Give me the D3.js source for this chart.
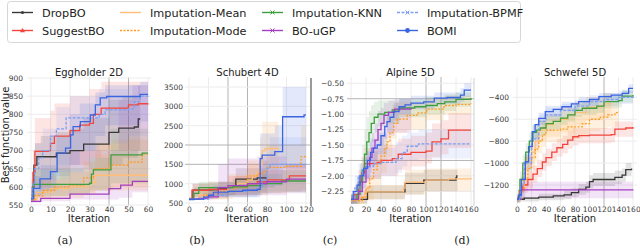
<!DOCTYPE html>
<html>
<head>
<meta charset="utf-8">
<script src="https://cdn.jsdelivr.net/npm/d3@7"></script>
<style>
  body { margin: 0; background: #fff; }
  svg { display: block; font-family: "DejaVu Sans", sans-serif; }
</style>
</head>
<body>
<svg id="chart" width="640" height="252"></svg>
<script>
const methods = ['DropBO', 'SuggestBO', 'Imputation-Mean', 'Imputation-Mode', 'Imputation-KNN', 'BO-uGP', 'Imputation-BPMF', 'BOMI'];
const colors = ['#383838', '#f2453d', '#ffbe78', '#ff9a22', '#3f9e3f', '#a43fc2', '#7c9ff2', '#3a64e0'];
const dashes = [null, null, null, '2,1.5', null, null, '3,1.5', null];
const panelTitles = ['Eggholder 2D', 'Schubert 4D', 'Alpine 5D', 'Schwefel 5D'];
const subLabels = ['(a)', '(b)', '(c)', '(d)'];

// ---- Eggholder 2D: step points [iteration, value], bands [iteration, low, high]
const eggLines = {
  'DropBO': [[0,567],[1,600],[1.5,660],[3,683],[8,683],[13,693],[20,700],[27,718],[39,718],[40,750],[45,762],[53,765],[55,787],[56,787]],
  'SuggestBO': [[0,570],[1,640],[2,698],[9,700],[10,720],[12,740],[20,755],[25,770],[30,775],[32,800],[36,817],[50,826],[55,829],[60,830]],
  'Imputation-Mean': [[0,565],[3,585],[10,595],[20,600],[30,612],[33,632],[60,632]],
  'Imputation-Mode': [[0,565],[2,575],[6,590],[12,600],[20,605],[27,625],[32,650],[40,660],[50,668],[57,690],[60,690]],
  'Imputation-KNN': [[0,570],[1,607],[30,610],[31,635],[32,647],[41,688],[57,693],[60,693]],
  'BO-uGP': [[0,560],[5,568],[20,580],[40,595],[46,605],[52,615],[60,615]],
  'Imputation-BPMF': [[0,570],[1,610],[2,650],[4,680],[6,700],[10,740],[13,760],[18,790],[32,790],[35,800],[38,812],[50,815],[53,835],[56,850],[60,855]],
  'BOMI': [[0,567],[1.3,596],[4.6,622],[10,642],[13.4,693],[17.7,707],[20.3,743],[21.6,766],[25.3,780],[30.4,798],[33,826],[35.5,845],[38.8,849],[56,855],[60,855]]
};
const eggBands = {
  'DropBO': [[0,560,600],[2,600,720],[5,620,740],[13,630,750],[20,640,760],[27,650,790],[40,660,840],[47,680,850],[55,700,880],[56,700,880]],
  'SuggestBO': [[0,560,620],[1,580,700],[2,600,790],[10,620,810],[12,640,830],[20,660,850],[30,680,870],[36,700,890],[60,720,895]],
  'Imputation-Mean': [[0,560,580],[3,570,620],[10,575,630],[20,580,640],[30,585,650],[33,590,690],[60,590,690]],
  'Imputation-Mode': [[0,560,580],[5,565,620],[15,570,640],[27,580,670],[33,590,720],[42,600,730],[60,610,740]],
  'Imputation-KNN': [[0,560,590],[2,575,650],[20,580,650],[30,590,680],[41,610,760],[60,620,770]],
  'BO-uGP': [[0,555,600],[5,560,620],[20,565,700],[45,570,840],[52,585,880],[60,590,880]],
  'Imputation-BPMF': [[0,560,600],[2,580,720],[6,620,760],[13,660,820],[20,700,850],[35,720,870],[50,740,880],[60,760,890]],
  'BOMI': [[0,560,580],[2,575,630],[5,590,660],[13,620,740],[20,660,800],[25,700,830],[33,740,860],[38,770,880],[56,780,890],[60,790,895]]
};

// ---- Schubert 4D
const schLines = {
  'DropBO': [[0,600],[4,830],[20,840],[30,880],[40,950],[48,1120],[70,1150],[80,1150]],
  'SuggestBO': [[0,600],[3,830],[20,850],[40,950],[60,1000],[70,1050],[80,1100],[103,1200],[120,1200]],
  'Imputation-Mean': [[0,600],[10,700],[25,800],[40,950],[50,1000],[60,1100],[65,1200],[70,1300],[73,1500],[75,1850],[78,1910],[92,1910]],
  'Imputation-Mode': [[0,600],[15,700],[30,800],[45,900],[60,1200],[70,1250],[75,1300],[80,1420],[100,1450],[115,1700],[120,1720]],
  'Imputation-KNN': [[0,600],[5,750],[10,897],[30,900],[45,920],[60,950],[75,1000],[95,1069],[120,1069]],
  'BO-uGP': [[0,600],[10,620],[20,660],[30,900],[40,950],[60,1000],[80,1050],[100,1120],[120,1120]],
  'Imputation-BPMF': [[0,600],[20,700],[40,800],[60,830],[70,900],[75,1100],[80,1400],[83,1500],[120,1500]],
  'BOMI': [[0,590],[5,600],[15,650],[20,700],[25,780],[40,800],[55,830],[70,850],[73,1650],[75,1740],[88,1830],[96,2730],[118,2780],[120,2780]]
};
const schBands = {
  'DropBO': [[0,580,620],[4,650,1000],[30,700,1050],[48,800,1400],[80,800,1450]],
  'SuggestBO': [[0,580,640],[3,650,1000],[20,650,1050],[40,700,1200],[70,750,1350],[100,800,1500],[120,800,1550]],
  'Imputation-Mean': [[0,580,640],[10,600,850],[40,700,1250],[60,750,1500],[73,800,2200],[75,1100,2600],[92,1100,2600]],
  'Imputation-Mode': [[0,580,640],[15,600,900],[45,650,1200],[60,700,1600],[80,800,2000],[115,850,2500],[120,850,2500]],
  'Imputation-KNN': [[0,580,640],[5,650,900],[10,700,1050],[45,720,1100],[75,750,1250],[95,780,1350],[120,780,1350]],
  'BO-uGP': [[0,580,620],[10,600,700],[20,600,900],[30,650,1500],[40,700,1650],[70,700,1700],[100,750,1500],[120,750,1500]],
  'Imputation-BPMF': [[0,580,620],[20,620,800],[40,650,1000],[70,700,1200],[75,750,1600],[83,800,2200],[120,800,2200]],
  'BOMI': [[0,580,620],[15,600,750],[25,650,950],[48,650,1000],[70,650,1100],[73,900,2300],[88,950,2500],[96,1400,3500],[120,1400,3550]]
};

// ---- Alpine 5D
const alpLines = {
  'DropBO': [[0,-2.38],[20,-2.38],[22,-2.26],[70,-2.26],[72,-2.12],[97,-2.07],[140,-2.03],[141,-2.0],[142,-2.0]],
  'SuggestBO': [[0,-2.38],[5,-2.3],[10,-2.1],[14,-1.95],[18,-1.8],[35,-1.78],[40,-1.75],[55,-1.72],[63,-1.65],[80,-1.62],[100,-1.6],[108,-1.45],[120,-1.4],[130,-1.26],[160,-1.26]],
  'Imputation-Mean': [[0,-2.38],[12,-2.35],[18,-2.26],[70,-2.2],[72,-2.1],[100,-2.07],[130,-2.05],[160,-2.03]],
  'Imputation-Mode': [[0,-2.4],[15,-2.35],[20,-2.2],[25,-2.05],[30,-1.9],[35,-1.8],[40,-1.68],[45,-1.55],[48,-1.45],[52,-1.3],[57,-1.15],[62,-1.08],[75,-1.02],[88,-0.98],[101,-0.92],[124,-0.86],[140,-0.84],[160,-0.82]],
  'Imputation-KNN': [[0,-2.38],[8,-2.3],[12,-2.1],[15,-1.9],[18,-1.65],[21,-1.45],[24,-1.3],[27,-1.15],[31,-1.05],[36,-1.0],[45,-0.97],[55,-0.93],[65,-0.9],[85,-0.88],[100,-0.86],[115,-0.83],[125,-0.8],[140,-0.76],[160,-0.74]],
  'BO-uGP': [[0,-2.38],[10,-2.25],[15,-2.1],[20,-1.85],[25,-1.7],[28,-1.55],[32,-1.42],[36,-1.25],[40,-1.15],[44,-1.02],[50,-0.97],[58,-0.92],[80,-0.9]],
  'Imputation-BPMF': [[0,-2.38],[5,-2.2],[10,-2.0],[15,-1.9],[20,-1.85],[30,-1.8],[40,-1.78],[60,-1.72],[68,-1.62],[75,-1.52],[90,-1.48],[160,-1.48]],
  'BOMI': [[0,-2.38],[3,-2.25],[8,-2.15],[12,-2.0],[17,-1.88],[22,-1.75],[26,-1.62],[30,-1.55],[35,-1.5],[40,-1.35],[45,-1.2],[48,-1.12],[52,-1.05],[57,-0.96],[64,-0.88],[72,-0.85],[80,-0.82],[97,-0.8],[111,-0.74],[128,-0.73],[146,-0.69],[151,-0.61],[160,-0.61]]
};
const alpBands = {
  'DropBO': [[0,-2.45,-2.32],[22,-2.38,-2.15],[72,-2.3,-1.95],[97,-2.25,-1.9],[142,-2.2,-1.85]],
  'SuggestBO': [[0,-2.45,-2.3],[5,-2.4,-2.15],[10,-2.3,-1.9],[14,-2.2,-1.7],[18,-2.05,-1.55],[40,-2.0,-1.5],[63,-1.9,-1.4],[80,-1.85,-1.35],[100,-1.8,-1.3],[108,-1.7,-1.15],[120,-1.65,-1.1],[130,-1.55,-0.98],[160,-1.55,-0.98]],
  'Imputation-Mean': [[0,-2.45,-2.3],[18,-2.38,-2.15],[70,-2.35,-2.05],[72,-2.3,-1.9],[100,-2.25,-1.88],[160,-2.2,-1.85]],
  'Imputation-Mode': [[0,-2.45,-2.3],[20,-2.4,-2.0],[30,-2.15,-1.6],[40,-1.95,-1.35],[48,-1.7,-1.05],[55,-1.4,-0.85],[60,-1.3,-0.8],[75,-1.25,-0.8],[100,-1.1,-0.75],[124,-1.0,-0.7],[160,-0.98,-0.68]],
  'Imputation-KNN': [[0,-2.45,-2.3],[8,-2.45,-2.1],[12,-2.3,-1.8],[15,-2.1,-1.5],[18,-1.95,-1.25],[21,-1.75,-1.05],[24,-1.6,-0.95],[27,-1.45,-0.85],[31,-1.3,-0.8],[36,-1.2,-0.78],[45,-1.15,-0.78],[65,-1.05,-0.76],[100,-1.0,-0.72],[125,-0.95,-0.68],[140,-0.88,-0.65],[160,-0.86,-0.63]],
  'BO-uGP': [[0,-2.45,-2.3],[10,-2.4,-2.05],[15,-2.3,-1.85],[20,-2.1,-1.6],[25,-1.95,-1.45],[28,-1.85,-1.3],[32,-1.75,-1.15],[36,-1.6,-0.95],[40,-1.5,-0.9],[44,-1.4,-0.82],[50,-1.35,-0.78],[58,-1.3,-0.76],[80,-1.3,-0.75]],
  'Imputation-BPMF': [[0,-2.45,-2.3],[5,-2.35,-2.0],[10,-2.2,-1.8],[20,-2.05,-1.6],[40,-2.0,-1.55],[60,-1.95,-1.45],[68,-1.85,-1.35],[75,-1.75,-1.3],[90,-1.72,-1.25],[160,-1.72,-1.22]],
  'BOMI': [[0,-2.45,-2.3],[8,-2.3,-2.0],[17,-2.05,-1.7],[26,-1.8,-1.4],[35,-1.65,-1.3],[48,-1.3,-0.95],[57,-1.1,-0.82],[64,-1.0,-0.75],[80,-0.92,-0.7],[111,-0.84,-0.65],[146,-0.8,-0.58],[151,-0.72,-0.5],[160,-0.72,-0.5]]
};

// ---- Schwefel 5D
const swfLines = {
  'DropBO': [[0,-1330],[10,-1320],[30,-1310],[50,-1300],[65,-1290],[75,-1270],[85,-1240],[95,-1220],[100,-1170],[105,-1150],[130,-1150],[135,-1130],[145,-1110],[150,-1060],[158,-1050]],
  'SuggestBO': [[0,-1330],[3,-1250],[8,-1200],[15,-1150],[22,-1100],[28,-1050],[35,-990],[40,-950],[48,-900],[55,-860],[63,-830],[70,-790],[77,-760],[85,-750],[100,-745],[130,-740],[135,-690],[150,-680],[160,-670]],
  'Imputation-Mean': [[0,-1330],[5,-1200],[10,-1050],[15,-950],[20,-900],[25,-800],[30,-700],[35,-680],[40,-650],[50,-620],[60,-600],[70,-560],[80,-540],[95,-490],[115,-480],[120,-460],[130,-460]],
  'Imputation-Mode': [[0,-1330],[5,-1250],[10,-1150],[15,-1050],[20,-950],[25,-870],[30,-800],[35,-740],[40,-700],[60,-690],[70,-670],[90,-640],[100,-600],[115,-580],[125,-560],[135,-540],[140,-530]],
  'Imputation-KNN': [[0,-1330],[4,-1150],[8,-1000],[12,-900],[17,-800],[22,-720],[27,-700],[32,-680],[40,-640],[50,-620],[60,-590],[70,-560],[80,-520],[90,-500],[110,-480],[120,-440],[140,-430],[145,-390],[160,-380]],
  'BO-uGP': [[0,-1330],[5,-1245],[160,-1240]],
  'Imputation-BPMF': [[0,-1330],[5,-1200],[10,-1000],[20,-780],[30,-620],[40,-560],[60,-520],[80,-480],[100,-440],[120,-420],[140,-400],[160,-390]],
  'BOMI': [[0,-1330],[2,-1291],[6,-1150],[11.5,-988],[16,-850],[21,-714],[25,-650],[30,-592],[39,-531],[50,-510],[62,-486],[75,-460],[85,-440],[100,-420],[113,-394],[130,-380],[145,-364],[154,-318],[160,-318]]
};
const swfBands = {
  'DropBO': [[0,-1350,-1310],[30,-1340,-1280],[65,-1330,-1250],[75,-1310,-1230],[85,-1290,-1190],[95,-1270,-1170],[100,-1230,-1110],[105,-1210,-1090],[130,-1210,-1090],[135,-1190,-1070],[145,-1170,-1050],[150,-1120,-1000],[158,-1110,-990]],
  'SuggestBO': [[0,-1360,-1300],[3,-1320,-1180],[8,-1270,-1130],[15,-1230,-1070],[22,-1180,-1020],[28,-1130,-970],[35,-1070,-910],[40,-1030,-870],[48,-980,-820],[55,-940,-780],[63,-910,-750],[70,-870,-710],[77,-840,-680],[85,-820,-680],[130,-810,-670],[135,-760,-620],[160,-740,-600]],
  'Imputation-Mean': [[0,-1360,-1300],[5,-1280,-1120],[10,-1150,-950],[15,-1050,-850],[20,-1000,-800],[25,-900,-700],[30,-800,-610],[40,-760,-550],[60,-720,-490],[80,-660,-440],[95,-610,-400],[120,-590,-360],[130,-590,-360]],
  'Imputation-Mode': [[0,-1360,-1300],[5,-1320,-1180],[10,-1250,-1050],[15,-1150,-950],[20,-1060,-840],[25,-980,-760],[30,-910,-690],[35,-850,-630],[40,-810,-590],[60,-800,-580],[70,-780,-560],[90,-750,-530],[100,-710,-490],[115,-690,-470],[125,-670,-450],[140,-640,-420]],
  'Imputation-KNN': [[0,-1360,-1300],[4,-1220,-1080],[8,-1080,-920],[12,-980,-820],[17,-880,-720],[22,-800,-650],[27,-770,-630],[32,-750,-610],[40,-710,-570],[50,-690,-550],[60,-650,-530],[70,-620,-500],[80,-580,-460],[90,-560,-440],[110,-540,-420],[120,-500,-380],[140,-490,-370],[145,-450,-340],[160,-440,-330]],
  'BO-uGP': [[0,-1350,-1300],[5,-1320,-1170],[160,-1320,-1170]],
  'Imputation-BPMF': [[0,-1360,-1300],[5,-1260,-1140],[10,-1070,-930],[20,-850,-710],[30,-680,-560],[40,-620,-500],[60,-580,-460],[80,-540,-420],[100,-500,-380],[120,-480,-360],[140,-460,-340],[160,-440,-320]],
  'BOMI': [[0,-1360,-1300],[2,-1330,-1240],[11.5,-1060,-920],[21,-780,-650],[30,-650,-540],[39,-580,-480],[62,-530,-440],[85,-480,-400],[113,-430,-360],[145,-400,-330],[154,-360,-280],[160,-360,-280]]
};

// ticks
const eggXTicks = [0, 10, 20, 30, 40, 50, 60];
const eggYTicks = [550, 600, 650, 700, 750, 800, 850, 900];
const schXTicks = [0, 20, 40, 60, 80, 100, 120];
const schYTicks = [500, 1000, 1500, 2000, 2500, 3000, 3500];
const alpXTicks = [0, 20, 40, 60, 80, 100, 120, 140, 160];
const alpYTicks = [-2.25, -2.0, -1.75, -1.5, -1.25, -1.0, -0.75, -0.5];
const swfXTicks = [0, 20, 40, 60, 80, 100, 120, 140, 160];
const swfYTicks = [-1200, -1000, -800, -600, -400];

const plotTop = 77, plotBottom = 206;
const panels = [
  { lines: eggLines, bands: eggBands, xTicks: eggXTicks, yTicks: eggYTicks, fmt: d3.format('d'),
    xd: [0, 60], xr: [31, 148], yd: [550, 900], yr: [205, 78], left: 27, right: 151, labelX: 23,
    darkX: [40, 50], darkY: [], sub: 65 },
  { lines: schLines, bands: schBands, xTicks: schXTicks, yTicks: schYTicks, fmt: d3.format('d'),
    xd: [0, 120], xr: [189, 306], yd: [500, 3500], yr: [203, 87], left: 185, right: 310, labelX: 183,
    darkX: [40, 60], darkY: [1500, 2000], sub: 197 },
  { lines: alpLines, bands: alpBands, xTicks: alpXTicks, yTicks: alpYTicks, fmt: d3.format('.2f'),
    xd: [0, 160], xr: [351, 471], yd: [-2.25, -0.5], yr: [191.3, 83.3], left: 347, right: 474, labelX: 344,
    darkX: [100, 120], darkY: [-0.75, -1.75], sub: 330 },
  { lines: swfLines, bands: swfBands, xTicks: swfXTicks, yTicks: swfYTicks, fmt: d3.format('d'),
    xd: [0, 160], xr: [517, 633], yd: [-1200, -400], yr: [185, 97.3], left: 513, right: 637, labelX: 509,
    darkX: [120], darkY: [], sub: 462 }
];

const svg = d3.select('#chart');
const defs = svg.append('defs');

panels.forEach((p, pi) => {
  const x = d3.scaleLinear().domain(p.xd).range(p.xr);
  const y = d3.scaleLinear().domain(p.yd).range(p.yr);
  const g = svg.append('g');

  defs.append('clipPath').attr('id', `clip${pi}`)
    .append('rect').attr('x', p.left).attr('y', plotTop).attr('width', p.right - p.left).attr('height', plotBottom - plotTop);

  // grid
  g.selectAll('.gx').data(p.xTicks).enter().append('line')
    .attr('x1', d => x(d)).attr('x2', d => x(d)).attr('y1', plotTop).attr('y2', plotBottom)
    .attr('stroke', d => p.darkX.includes(d) ? '#b4b4b4' : '#ececec').attr('stroke-width', 1);
  g.selectAll('.gy').data(p.yTicks).enter().append('line')
    .attr('x1', p.left).attr('x2', p.right).attr('y1', d => y(d)).attr('y2', d => y(d))
    .attr('stroke', d => p.darkY.includes(d) ? '#b4b4b4' : '#ececec').attr('stroke-width', 1);

  const plot = g.append('g').attr('clip-path', `url(#clip${pi})`);

  const area = d3.area().curve(d3.curveStepAfter)
    .x(d => x(d[0])).y0(d => y(d[1])).y1(d => y(d[2]));
  const line = d3.line().curve(d3.curveStepAfter)
    .x(d => x(d[0])).y(d => y(d[1]));

  methods.forEach((m, i) => {
    plot.append('path').attr('d', area(p.bands[m]))
      .attr('fill', colors[i]).attr('fill-opacity', i === 2 ? 0.22 : 0.14);
  });
  methods.forEach((m, i) => {
    plot.append('path').attr('d', line(p.lines[m]))
      .attr('fill', 'none').attr('stroke', colors[i]).attr('stroke-width', 1.3)
      .attr('stroke-dasharray', dashes[i]);
  });

  // axes
  const yAxis = d3.axisLeft(y).tickValues(p.yTicks).tickSize(0).tickPadding(0).tickFormat(p.fmt);
  const ya = g.append('g').attr('transform', `translate(${p.labelX},0)`).call(yAxis);
  const xAxis = d3.axisBottom(x).tickValues(p.xTicks).tickSize(0).tickPadding(1).tickFormat(d3.format('d'));
  const xa = g.append('g').attr('transform', `translate(0,${plotBottom})`).call(xAxis);
  [ya, xa].forEach(a => {
    a.select('.domain').remove();
    a.selectAll('text').attr('font-size', '7.5px').attr('fill', '#3a3a3a').attr('font-family', '"DejaVu Sans", sans-serif');
  });

  const cx = (p.left + p.right) / 2;
  g.append('text').attr('x', cx).attr('y', 76).attr('text-anchor', 'middle')
    .attr('font-size', '10px').attr('fill', '#222').text(panelTitles[pi]);
  g.append('text').attr('x', cx).attr('y', 222).attr('text-anchor', 'middle')
    .attr('font-size', '10px').attr('fill', '#222').text('Iteration');
  g.append('text').attr('x', p.sub).attr('y', 244).attr('text-anchor', 'middle')
    .attr('font-size', '11px').attr('font-family', '"DejaVu Serif", serif').attr('fill', '#222').text(subLabels[pi]);
});

// y-axis label (first panel only)
svg.append('text').attr('transform', 'translate(9,135) rotate(-90)').attr('text-anchor', 'middle')
  .attr('font-size', '10px').attr('fill', '#222').text('Best function value');

// panel edge lines seen in the figure
svg.append('line').attr('x1', 311).attr('x2', 311).attr('y1', plotTop + 1).attr('y2', plotBottom)
  .attr('stroke', '#9a9a9a').attr('stroke-width', 2);
svg.append('line').attr('x1', 474).attr('x2', 474).attr('y1', plotTop + 1).attr('y2', plotBottom)
  .attr('stroke', '#d0d0d0').attr('stroke-width', 1);

// legend
const legend = svg.append('g');
legend.append('rect').attr('x', 7.5).attr('y', 1.5).attr('width', 513).attr('height', 41).attr('rx', 3)
  .attr('fill', '#fff').attr('stroke', '#d6d6d6');
const colLine = [12, 120, 262, 397];
const colText = [42, 150, 292, 427];
const rowY = [12.5, 30.5];
methods.forEach((m, i) => {
  const c = Math.floor(i / 2), r = i % 2;
  const lx = colLine[c], ly = rowY[r], mx = lx + 10.5;
  legend.append('line').attr('x1', lx).attr('x2', lx + 21).attr('y1', ly).attr('y2', ly)
    .attr('stroke', colors[i]).attr('stroke-width', 1.4).attr('stroke-dasharray', dashes[i]);
  if (m === 'DropBO') {
    legend.append('circle').attr('cx', mx).attr('cy', ly).attr('r', 1.5).attr('fill', colors[i]);
  } else if (m === 'SuggestBO') {
    legend.append('path').attr('d', `M${mx},${ly - 2.6}L${mx + 2.6},${ly + 1.8}L${mx - 2.6},${ly + 1.8}Z`).attr('fill', colors[i]);
  } else if (m === 'BOMI') {
    legend.append('circle').attr('cx', mx).attr('cy', ly).attr('r', 2.4).attr('fill', colors[i]);
  } else if (m === 'Imputation-KNN' || m === 'BO-uGP' || m === 'Imputation-BPMF') {
    legend.append('path').attr('d', `M${mx - 2},${ly - 2}L${mx + 2},${ly + 2}M${mx - 2},${ly + 2}L${mx + 2},${ly - 2}`)
      .attr('stroke', colors[i]).attr('stroke-width', 1);
  }
  legend.append('text').attr('x', colText[c]).attr('y', ly + 4)
    .attr('font-size', '11.3px').attr('fill', '#222').text(m);
});
</script>
</body>
</html>
